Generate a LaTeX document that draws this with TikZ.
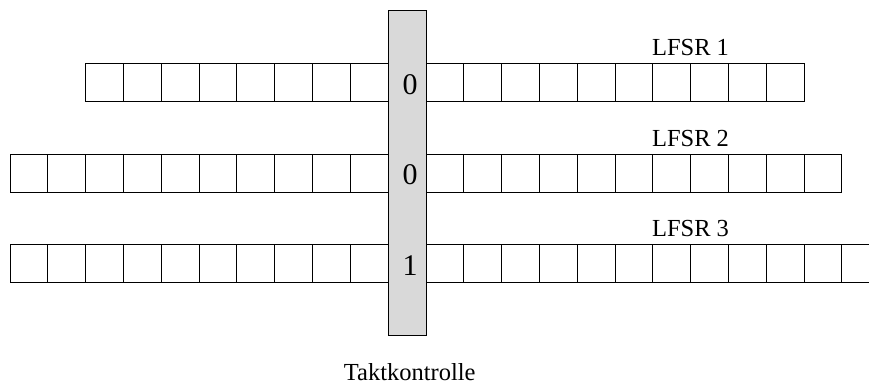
\documentclass[tikz,border=0pt]{standalone}
\usepackage{fontspec}
\setmainfont{Liberation Serif}
\begin{document}
\begin{tikzpicture}[x=1pt,y=1pt,
  cell/.style={draw, line width=0.9pt, minimum width=37.8pt, minimum height=38pt, inner sep=0pt, outer sep=0pt},
  bar/.style={draw, line width=0.9pt, fill=gray!30, minimum width=38pt, minimum height=325pt, inner sep=0pt, outer sep=0pt},
  lbl/.style={font=\fontsize{24.5}{28}\selectfont, anchor=base, inner sep=0pt},
  bit/.style={font=\fontsize{30}{34}\selectfont, anchor=base, inner sep=0pt}]
\useasboundingbox (0,0) rectangle (869,385);
\clip (0,0) rectangle (869,385);
% row 1
\foreach \k in {1,...,8} {\node[cell] (a-l\k) at ({388-18.9-(\k-1)*37.8},303) {};}
\foreach \k in {1,...,10} {\node[cell] (a-r\k) at ({426+18.9+(\k-1)*37.8},303) {};}
% row 2
\foreach \k in {1,...,10} {\node[cell] (b-l\k) at ({388-18.9-(\k-1)*37.8},212) {};}
\foreach \k in {1,...,11} {\node[cell] (b-r\k) at ({426+18.9+(\k-1)*37.8},212) {};}
% row 3
\foreach \k in {1,...,10} {\node[cell] (c-l\k) at ({388-18.9-(\k-1)*37.8},121.5) {};}
\foreach \k in {1,...,12} {\node[cell] (c-r\k) at ({426+18.9+(\k-1)*37.8},121.5) {};}
% clock control bar
\node[bar] (takt) at (407,212.5) {};
\node[bit] (bit1) at (410,290) {0};
\node[bit] (bit2) at (410,200) {0};
\node[bit] (bit3) at (410,109) {1};
% labels
\node[lbl] (l1) at (690.5,329) {LFSR 1};
\node[lbl] (l2) at (690.5,238.5) {LFSR 2};
\node[lbl] (l3) at (690.5,148.3) {LFSR 3};
\node[lbl] (tk) at (409.7,5) {Taktkontrolle};
\end{tikzpicture}
\end{document}
